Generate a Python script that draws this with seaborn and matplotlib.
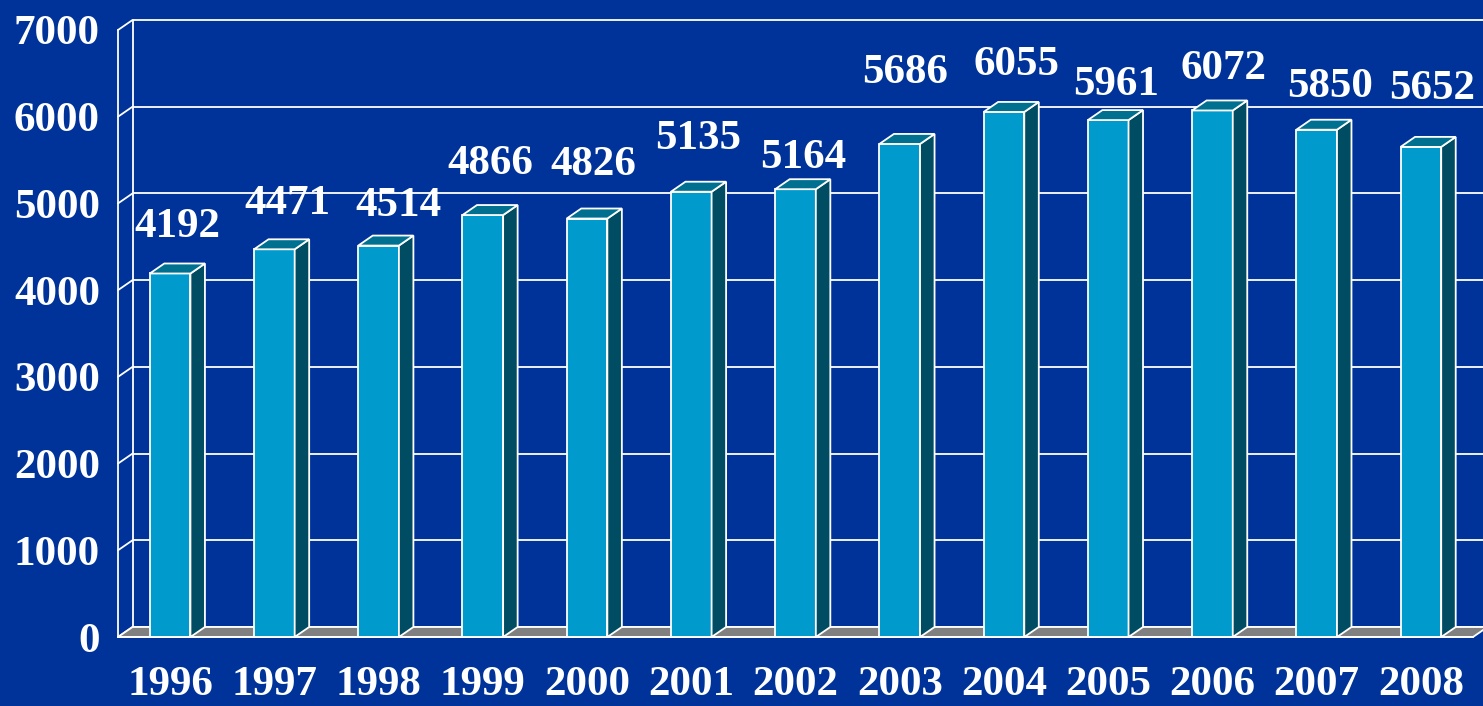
import matplotlib
matplotlib.use("Agg")
import matplotlib.pyplot as plt
from matplotlib.patches import Polygon
import seaborn as sns
import pandas as pd

# ---- data ----
years = ["1996", "1997", "1998", "1999", "2000", "2001", "2002",
         "2003", "2004", "2005", "2006", "2007", "2008"]
values = [4192, 4471, 4514, 4866, 4826, 5135, 5164,
          5686, 6055, 5961, 6072, 5850, 5652]
y_ticks = [0, 1000, 2000, 3000, 4000, 5000, 6000, 7000]

# ---- label placement (layout, pixels) ----
label_dx_px = [0, 6, 13, 0, -1, 0, 0, -2, 5, 1, 4, 6, 4]
label_lift_px = [26, 25.5, 20, 31, 33.5, 33, 11, 51, 27, 15, 21, 22.5, 38]

# ---- style ----
BG = "#003399"
FRONT = "#009BCC"
TOP = "#007090"
SIDE = "#004C62"
FLOOR = "#808080"
EDGE = "white"
LW = 1.3
FONT = "Liberation Serif"

sns.set_style("white")
plt.rcParams["font.family"] = [FONT, "DejaVu Serif"]

W, H = 1483, 706
fig = plt.figure(figsize=(W / 100, H / 100), dpi=100, facecolor=BG)

x0, x1 = 118, 1473
y_zero, y_top = 637, 30
ax = fig.add_axes([x0 / W, (H - y_zero) / H, (x1 - x0) / W, (y_zero - y_top) / H])
ax.set_facecolor("none")

df = pd.DataFrame({"year": years, "value": values})
sns.barplot(data=df, x="year", y="value", width=0.39, color=FRONT,
            saturation=1, edgecolor=EDGE, linewidth=LW, ax=ax, zorder=4)

n = len(years)
ax.set_xlim(-0.5, n - 0.5)
ax.set_ylim(0, 7000)

# depth offsets in data units
px_per_cat = (x1 - x0) / n
px_per_unit = (y_zero - y_top) / 7000
dx = 14.5 / px_per_cat
dy = 10 / px_per_unit

# back wall gridlines
for t in y_ticks:
    ax.plot([-0.5 + dx, n - 0.5 + dx + 0.3], [t + dy, t + dy], color=EDGE,
            lw=LW, zorder=1, clip_on=False, solid_capstyle="butt")
    # side wall diagonals
    ax.plot([-0.5, -0.5 + dx], [t, t + dy], color=EDGE, lw=LW, zorder=1,
            clip_on=False)
# back wall left vertical
ax.plot([-0.5 + dx, -0.5 + dx], [dy, 7000 + dy], color=EDGE, lw=LW,
        zorder=1, clip_on=False)

# floor
floor = Polygon([(-0.5, 0), (n - 0.5, 0), (n - 0.5 + dx, dy), (-0.5 + dx, dy)],
                closed=True, facecolor=FLOOR, edgecolor=EDGE, lw=LW,
                zorder=2, clip_on=False)
ax.add_patch(floor)

# 3D side and top faces from seaborn's bars
bars = [p for p in ax.patches if p is not floor]
for i, p in enumerate(bars):
    bx, bw, bh = p.get_x(), p.get_width(), p.get_height()
    side = Polygon([(bx + bw, 0), (bx + bw + dx, dy), (bx + bw + dx, bh + dy),
                    (bx + bw, bh)], closed=True, facecolor=SIDE,
                   edgecolor=EDGE, lw=LW, zorder=4, clip_on=False)
    top = Polygon([(bx, bh), (bx + dx, bh + dy), (bx + bw + dx, bh + dy),
                   (bx + bw, bh)], closed=True, facecolor=TOP,
                  edgecolor=EDGE, lw=LW, zorder=4, clip_on=False)
    ax.add_patch(side)
    ax.add_patch(top)
    ax.annotate(f"{values[i]}", xy=(bx + bw / 2 + dx / 2, bh + dy),
                xytext=(label_dx_px[i], label_lift_px[i]),
                textcoords="offset pixels", ha="center", va="baseline",
                fontsize=31, fontweight="bold", color="white", zorder=6,
                annotation_clip=False)

# axes styling
for s in ["top", "right"]:
    ax.spines[s].set_visible(False)
for s in ["left", "bottom"]:
    ax.spines[s].set_color(EDGE)
    ax.spines[s].set_linewidth(LW)
    ax.spines[s].set_zorder(5)

ax.set_yticks(y_ticks)
ax.set_yticklabels([str(t) for t in y_ticks])
ax.set_xticks(range(n))
ax.set_xticklabels(years)
ax.set_xticks([i - 0.5 for i in range(n + 1)], minor=True)
ax.tick_params(axis="x", which="major", length=0, pad=21,
               labelsize=31, labelcolor="white")
ax.tick_params(axis="x", which="minor", length=8, width=LW, color=EDGE,
               direction="out")
ax.tick_params(axis="y", which="major", length=7.2, width=LW, color=EDGE,
               pad=5.8, labelsize=31, labelcolor="white", direction="out")
for lab in ax.get_xticklabels() + ax.get_yticklabels():
    lab.set_fontweight("bold")
ax.set_xlabel("")
ax.set_ylabel("")
ax.grid(False)

fig.savefig("out.png", dpi=100, facecolor=BG)
